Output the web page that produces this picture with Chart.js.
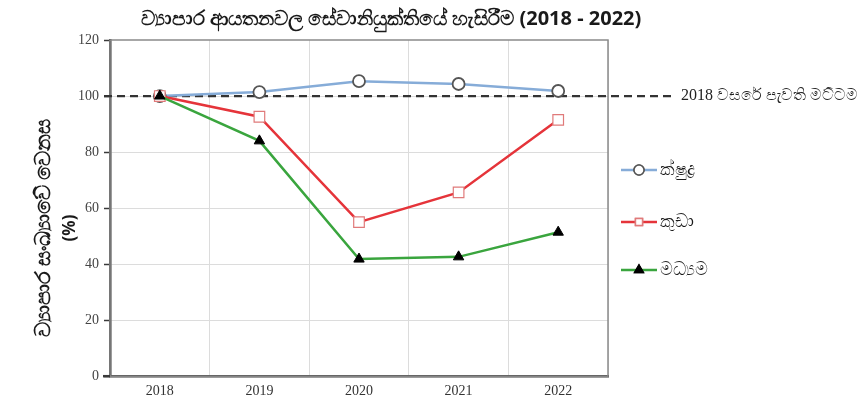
<!DOCTYPE html>
<html>
<head>
<meta charset="utf-8">
<script src="https://cdn.jsdelivr.net/npm/chart.js@4"></script>
<style>
  html, body { margin: 0; padding: 0; background: #fff; }
  #wrap { width: 864px; height: 407px; }
</style>
</head>
<body>
<div id="wrap"><canvas id="c"></canvas></div>
<script>
// data
const years = ['2018', '2019', '2020', '2021', '2022'];
const microVals = [100, 101.4, 105.3, 104.3, 101.8];
const smallVals = [100, 92.6, 55, 65.6, 91.5];
const mediumVals = [100, 84, 41.8, 42.6, 51.4];
const yTicks = [0, 20, 40, 60, 80, 100, 120];
const baseLevel = 100;

const titleText = 'ව්‍යාපාර ආයතනවල සේවානියුක්තියේ හැසිරීම (2018 - 2022)';
const yTitle = ['ව්‍යාපාර සංඛ්‍යාවේ වෙනස', '(%)'];
const baseLabel = '2018 වසරේ පැවති මට්ටම';
const seriesNames = ['ක්ෂුද්‍ර', 'කුඩා', 'මධ්‍යම'];

const SERIF = '"Liberation Serif", "DejaVu Serif", serif';
const SANS = '"Noto Sans", "DejaVu Sans", sans-serif';

const extras = {
  id: 'extras',
  beforeDatasetsDraw(chart) {
    const { ctx, chartArea: a, scales } = chart;
    ctx.save();
    // plot box
    ctx.strokeStyle = '#8a8a8a';
    ctx.lineWidth = 1.5;
    ctx.strokeRect(a.left, a.top, a.right - a.left, a.bottom - a.top);
    // baseline dashed line
    const y = scales.y.getPixelForValue(baseLevel);
    ctx.strokeStyle = '#333';
    ctx.lineWidth = 2.2;
    ctx.setLineDash([8, 5]);
    ctx.beginPath();
    ctx.moveTo(a.left - 6, y);
    ctx.lineTo(676, y);
    ctx.stroke();
    ctx.restore();
  },
  afterDraw(chart) {
    const { ctx, chartArea: a, scales } = chart;
    ctx.save();
    // bottom axis runs a little past the y axis
    ctx.strokeStyle = '#3a3a3a';
    ctx.lineWidth = 2.5;
    ctx.beginPath();
    ctx.moveTo(a.left - 7, a.bottom);
    ctx.lineTo(a.left, a.bottom);
    ctx.stroke();
    // title
    ctx.fillStyle = '#1a1a1a';
    ctx.font = 'bold 20px ' + SANS;
    ctx.textAlign = 'center';
    ctx.textBaseline = 'middle';
    ctx.fillText(titleText, 391, 19);
    // baseline label
    ctx.font = '16px ' + SERIF;
    ctx.textAlign = 'left';
    ctx.fillStyle = '#222';
    ctx.fillText(baseLabel, 681, scales.y.getPixelForValue(baseLevel));
    // y title
    ctx.fillStyle = '#1a1a1a';
    ctx.font = 'bold 21px ' + SANS;
    ctx.textAlign = 'center';
    ctx.translate(44, 228);
    ctx.rotate(-Math.PI / 2);
    ctx.fillText(yTitle[0], 0, 0);
    ctx.font = 'bold 17px ' + SANS;
    ctx.fillText(yTitle[1], 0, 26);
    ctx.restore();

    // legend
    const rows = [170, 222, 270];
    chart.data.datasets.forEach((ds, i) => {
      const yy = rows[i];
      ctx.save();
      ctx.strokeStyle = ds.borderColor;
      ctx.lineWidth = 2.5;
      ctx.beginPath();
      ctx.moveTo(621, yy);
      ctx.lineTo(657, yy);
      ctx.stroke();
      ctx.fillStyle = ds.pointBackgroundColor;
      ctx.strokeStyle = ds.pointBorderColor;
      ctx.lineWidth = 1.5;
      Chart.helpers.drawPoint(ctx, { pointStyle: ds.pointStyle, radius: 5, borderWidth: 1.5 }, 639, yy);
      ctx.fill();
      ctx.stroke();
      ctx.fillStyle = '#1a1a1a';
      ctx.font = '18px ' + SANS;
      ctx.textBaseline = 'middle';
      ctx.fillText(ds.label, 660, yy);
      ctx.restore();
    });
  }
};

new Chart(document.getElementById('c'), {
  type: 'line',
  data: {
    labels: years,
    datasets: [
      {
        label: seriesNames[0], data: microVals, order: 2,
        borderColor: '#86acd8', borderWidth: 2.5,
        pointStyle: 'circle', pointRadius: 6, pointBorderWidth: 1.8,
        pointBorderColor: '#555', pointBackgroundColor: '#ffffff',
      },
      {
        label: seriesNames[1], data: smallVals, order: 1,
        borderColor: '#e5343a', borderWidth: 2.5,
        pointStyle: 'rect', pointRadius: 7.5, pointBorderWidth: 1.2,
        pointBorderColor: '#e07a7a', pointBackgroundColor: '#ffffff',
      },
      {
        label: seriesNames[2], data: mediumVals, order: 0,
        borderColor: '#3aa53e', borderWidth: 2.5,
        pointStyle: 'triangle', pointRadius: 6, pointBorderWidth: 1,
        pointBorderColor: '#000000', pointBackgroundColor: '#000000',
      },
    ],
  },
  options: {
    responsive: true,
    maintainAspectRatio: false,
    animation: false,
    layout: { padding: { top: 40, right: 256, bottom: 0, left: 0 } },
    plugins: { legend: { display: false }, tooltip: { enabled: false } },
    elements: { line: { tension: 0 } },
    scales: {
      x: {
        offset: true,
        grid: { offset: true, color: '#dcdcdc', drawTicks: false },
        border: { color: '#3a3a3a', width: 2.5 },
        ticks: { color: '#333', font: { family: SERIF, size: 14 }, padding: 7 },
      },
      y: {
        min: 0, max: 120,
        afterBuildTicks(s) { s.ticks = yTicks.map((v) => ({ value: v })); },
        afterFit(s) { s.width = 110; },
        grid: {
          color: (c) => (c.tick && (c.tick.value === 0 || c.tick.value === 120) ? 'rgba(0,0,0,0)' : '#dcdcdc'),
          tickColor: '#3a3a3a', tickLength: 6, tickWidth: 1.5,
        },
        border: { color: '#3a3a3a', width: 2.5 },
        ticks: { color: '#444', font: { family: SERIF, size: 14 }, padding: 5 },
      },
    },
  },
  plugins: [extras],
});
</script>
</body>
</html>
